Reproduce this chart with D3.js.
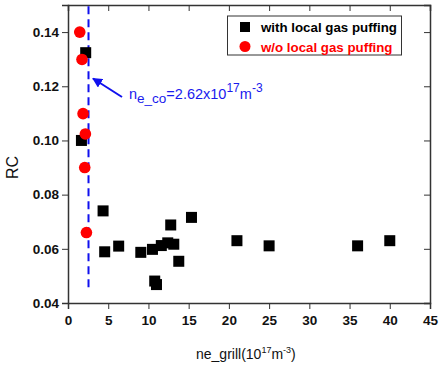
<!DOCTYPE html>
<html>
<head>
<meta charset="utf-8">
<script src="https://cdn.jsdelivr.net/npm/d3@7"></script>
<style>
  body { margin: 0; background: #fff; }
  text { font-family: Arial, "Liberation Sans", sans-serif; }
</style>
</head>
<body>
<div id="canvas"></div>
<script>
var width = 439;
var height = 374;

// data
var withPuffX = [2.2, 1.67, 4.36, 4.56, 6.3, 9.05, 10.5, 10.78, 11.0, 11.6, 12.4, 12.77, 13.15, 13.77, 15.35, 21.0, 25.0, 36.0, 40.0];
var withPuffY = [0.1324, 0.100, 0.074, 0.0589, 0.061, 0.0587, 0.0598, 0.0481, 0.0468, 0.0612, 0.0622, 0.0688, 0.0617, 0.0554, 0.0716, 0.063, 0.0611, 0.0611, 0.063];
var noPuffX = [1.46, 1.74, 1.87, 2.16, 2.08, 2.29];
var noPuffY = [0.140, 0.1299, 0.1099, 0.1024, 0.090, 0.066];
var xTicks = [0, 5, 10, 15, 20, 25, 30, 35, 40, 45];
var yTicks = [0.04, 0.06, 0.08, 0.10, 0.12, 0.14];
var cutoff = 2.55;
var seriesNames = ["with local gas puffing", "w/o local gas puffing"];

var margin = { left: 68, top: 5, right: 9, bottom: 71 };
var plotW = width - margin.left - margin.right;
var plotH = height - margin.top - margin.bottom;

var svg = d3.select("#canvas").append("svg")
  .attr("width", width)
  .attr("height", height)
  .style("background-color", "white");

var x = d3.scaleLinear().domain([0, 45]).range([margin.left, margin.left + plotW]);
var y = d3.scaleLinear().domain([0.04, 0.15]).range([margin.top + plotH, margin.top]);

var axisColor = "#333";
var minorX = d3.range(0, 45.01, 2.5);
var minorY = d3.range(0.04, 0.1501, 0.01);

// bottom axis (ticks out)
var gBottom = svg.append("g").attr("transform", "translate(0," + (margin.top + plotH) + ")");
gBottom.call(d3.axisBottom(x).tickValues(minorX).tickSize(4).tickFormat(""));
gBottom.call(d3.axisBottom(x).tickValues(xTicks).tickSize(6).tickPadding(6).tickFormat(d3.format("d")));
// left axis (ticks out)
var gLeft = svg.append("g").attr("transform", "translate(" + margin.left + ",0)");
gLeft.call(d3.axisLeft(y).tickValues(minorY).tickSize(4).tickFormat(""));
gLeft.call(d3.axisLeft(y).tickValues(yTicks).tickSize(6).tickPadding(3).tickFormat(d3.format(".2f")));
// top axis (ticks in)
var gTop = svg.append("g").attr("transform", "translate(0," + margin.top + ")");
gTop.call(d3.axisBottom(x).tickValues(minorX).tickSize(4).tickFormat(""));
gTop.call(d3.axisBottom(x).tickValues(xTicks).tickSize(6).tickFormat(""));
// right axis (ticks in)
var gRight = svg.append("g").attr("transform", "translate(" + (margin.left + plotW) + ",0)");
gRight.call(d3.axisLeft(y).tickValues(minorY).tickSize(4).tickFormat(""));
gRight.call(d3.axisLeft(y).tickValues(yTicks).tickSize(6).tickFormat(""));

svg.selectAll(".domain").attr("stroke", axisColor).attr("stroke-width", 1.5);
svg.selectAll(".tick line").attr("stroke", axisColor).attr("stroke-width", 1);
svg.selectAll(".tick text")
  .attr("font-size", 13.5)
  .attr("font-weight", "bold")
  .attr("fill", "#111")
  .style("font-family", "Arial, 'Liberation Sans', sans-serif");

// cutoff dashed line
svg.append("line")
  .attr("x1", x(cutoff)).attr("x2", x(cutoff))
  .attr("y1", y(0.1495)).attr("y2", y(0.0453))
  .attr("stroke", "#1010ee")
  .attr("stroke-width", 2)
  .attr("stroke-dasharray", "8,5");

// squares
var sq = 11;
svg.selectAll(".sq")
  .data(withPuffX)
  .join("rect")
  .attr("class", "sq")
  .attr("x", function (d) { return x(d) - sq / 2; })
  .attr("y", function (d, i) { return y(withPuffY[i]) - sq / 2; })
  .attr("width", sq)
  .attr("height", sq)
  .attr("fill", "black");

// circles
svg.selectAll(".dot")
  .data(noPuffX)
  .join("circle")
  .attr("class", "dot")
  .attr("cx", function (d) { return x(d); })
  .attr("cy", function (d, i) { return y(noPuffY[i]); })
  .attr("r", 5.8)
  .attr("fill", "#ff0000");

// arrow
svg.append("defs").append("marker")
  .attr("id", "arr")
  .attr("viewBox", "0 0 10 10")
  .attr("refX", 9).attr("refY", 5)
  .attr("markerWidth", 5).attr("markerHeight", 5)
  .attr("orient", "auto")
  .append("path")
  .attr("d", "M0,0 L10,5 L0,10 Z")
  .attr("fill", "#1010ee");

svg.append("line")
  .attr("x1", 122).attr("y1", 97)
  .attr("x2", 93).attr("y2", 78.5)
  .attr("stroke", "#1010ee")
  .attr("stroke-width", 2)
  .attr("marker-end", "url(#arr)");

var ann = svg.append("text")
  .attr("x", 129).attr("y", 99)
  .attr("fill", "#1a1aee")
  .attr("font-size", 14.5);
ann.append("tspan").text("n");
ann.append("tspan").attr("dy", 4).attr("font-size", 13.5).text("e_co");
ann.append("tspan").attr("dy", -4).text("=2.62x10");
ann.append("tspan").attr("dy", -7).attr("font-size", 12).text("17");
ann.append("tspan").attr("dy", 7).text("m");
ann.append("tspan").attr("dy", -7).attr("font-size", 12).text("-3");

// legend
var lg = svg.append("g");
lg.append("rect")
  .attr("x", 227.5).attr("y", 16)
  .attr("width", 174).attr("height", 39)
  .attr("fill", "white")
  .attr("stroke", "#333")
  .attr("stroke-width", 1);
lg.append("rect")
  .attr("x", 240).attr("y", 22).attr("width", 10).attr("height", 10)
  .attr("fill", "black");
lg.append("circle")
  .attr("cx", 245).attr("cy", 46.5).attr("r", 5.5)
  .attr("fill", "#ff0000");
lg.selectAll(".lgtext")
  .data(seriesNames)
  .join("text")
  .attr("class", "lgtext")
  .attr("x", 261)
  .attr("y", function (d, i) { return 32 + i * 19.5; })
  .attr("font-size", 13.3)
  .attr("font-weight", "bold")
  .attr("fill", function (d, i) { return i === 0 ? "black" : "#ff0000"; })
  .text(function (d) { return d; });

// axis titles
svg.append("text")
  .attr("transform", "translate(18," + y(0.09) + ") rotate(-90)")
  .attr("text-anchor", "middle")
  .attr("font-size", 16)
  .attr("fill", "#111")
  .text("RC");

var xt = svg.append("text")
  .attr("x", 196).attr("y", 359)
  .attr("font-size", 14)
  .attr("fill", "#111");
xt.append("tspan").text("ne_grill(10");
xt.append("tspan").attr("dy", -6).attr("font-size", 9).text("17");
xt.append("tspan").attr("dy", 6).text("m");
xt.append("tspan").attr("dy", -6).attr("font-size", 9).text("-3");
xt.append("tspan").attr("dy", 6).text(")");
</script>
</body>
</html>
